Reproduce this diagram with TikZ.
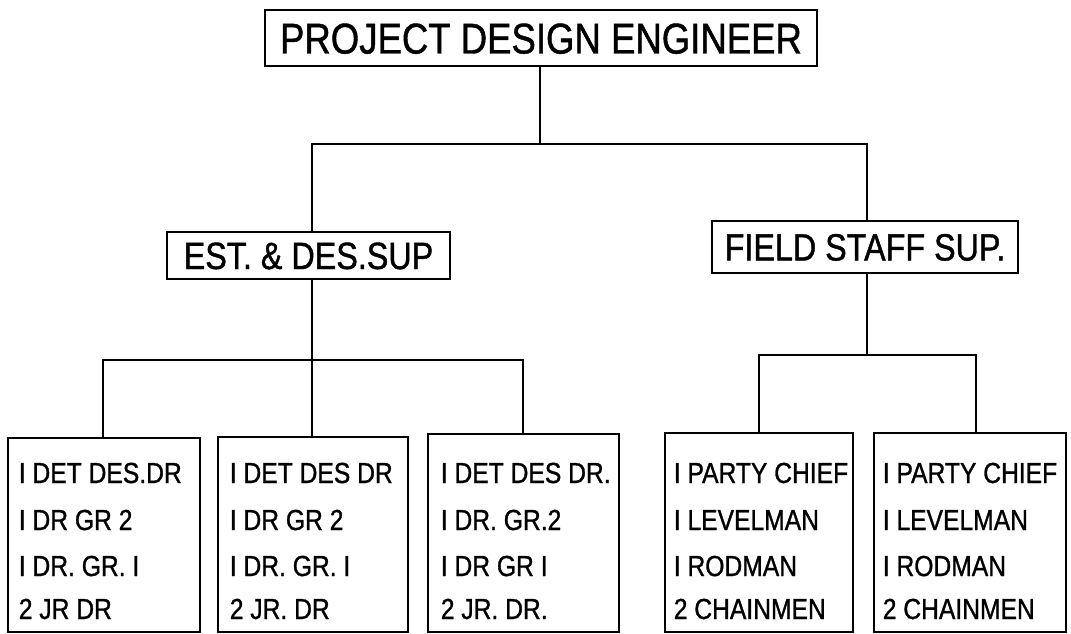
\documentclass[tikz,border=0pt]{standalone}
\usepackage{fontspec}
\setmainfont{Liberation Sans}[FakeStretch=0.85, FakeBold=1]
\begin{document}
\begin{tikzpicture}[x=1pt,y=-1pt,
  line width=1.6pt,
  box/.style={draw, rectangle, inner sep=0pt, anchor=north west},
  bigtxt/.style={font=\fontsize{43}{43}\selectfont, text height=31pt, text depth=0pt},
  midtxt/.style={font=\fontsize{38}{38}\selectfont, text height=27pt, text depth=0pt},
  linetxt/.style={font=\fontsize{29}{29}\selectfont, anchor=base west, inner sep=0pt},
]
\useasboundingbox (0,0) rectangle (1071,634);
% top
\node[draw, inner sep=0pt, minimum width=552pt, minimum height=56pt, bigtxt] (top) at (541,38) {PROJECT DESIGN ENGINEER};
% middle
\node[draw, inner sep=0pt, minimum width=283pt, minimum height=47pt, midtxt] (est) at (308.5,255.5) {EST. \& DES.SUP};
\node[draw, inner sep=0pt, minimum width=306pt, minimum height=52pt, midtxt] (field) at (865,247) {FIELD STAFF SUP.};
% bottom boxes
\node[box, minimum width=192pt, minimum height=194pt] (b1) at (7,437) {};
\node[box, minimum width=190pt, minimum height=195pt] (b2) at (217,436) {};
\node[box, minimum width=191pt, minimum height=198pt] (b3) at (427,433) {};
\node[box, minimum width=188pt, minimum height=199pt] (b4) at (664,432) {};
\node[box, minimum width=192pt, minimum height=199pt] (b5) at (873,432) {};
% texts
\foreach \bx/\x/\a/\b/\c/\d in {
  b1/18/{I DET DES.DR}/{I DR GR 2}/{I DR. GR. I}/{2 JR DR},
  b2/229/{I DET DES DR}/{I DR GR 2}/{I DR. GR. I}/{2 JR. DR},
  b3/440/{I DET DES DR.}/{I DR. GR.2}/{I DR GR I}/{2 JR. DR.},
  b4/673/{I PARTY CHIEF}/{I LEVELMAN}/{I RODMAN}/{2 CHAINMEN},
  b5/882/{I PARTY CHIEF}/{I LEVELMAN}/{I RODMAN}/{2 CHAINMEN}} {
  \node[linetxt] (\bx-1) at (\x,483) {\a};
  \node[linetxt] (\bx-2) at (\x,530) {\b};
  \node[linetxt] (\bx-3) at (\x,576) {\c};
  \node[linetxt] (\bx-4) at (\x,619) {\d};
}
% connectors
\coordinate (t0) at (540,144);
\coordinate (tL) at (312,144);
\coordinate (tR) at (867,144);
\draw (t0 |- top.south) -- (t0);
\draw (tL |- est.north) -- (tL) -- (tR) -- (tR |- field.north);
\coordinate (eJ) at (312,360);
\coordinate (eL) at (103,360);
\coordinate (eR) at (523,360);
\draw (eJ |- est.south) -- (eJ);
\draw (eL |- b1.north) -- (eL) -- (eR) -- (eR |- b3.north);
\draw (eJ) -- (eJ |- b2.north);
\coordinate (fJ) at (867,355);
\coordinate (fL) at (759,355);
\coordinate (fR) at (976,355);
\draw (fJ |- field.south) -- (fJ);
\draw (fL |- b4.north) -- (fL) -- (fR) -- (fR |- b5.north);
\end{tikzpicture}
\end{document}
